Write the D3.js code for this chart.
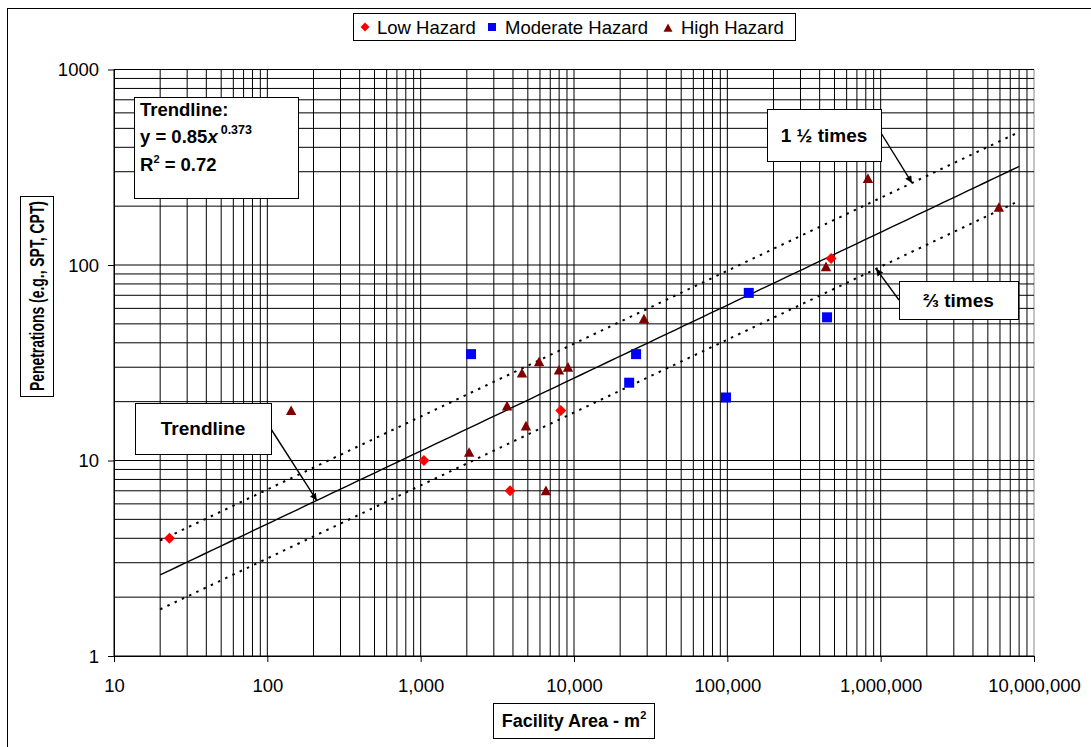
<!DOCTYPE html>
<html>
<head>
<meta charset="utf-8">
<script src="https://cdn.jsdelivr.net/npm/d3@7/dist/d3.min.js"></script>
<style>
  html, body { margin: 0; padding: 0; background: #fff; }
  svg text { font-family: Arial, "Liberation Sans", sans-serif; fill: #000; }
</style>
</head>
<body>
<svg id="chart" width="1091" height="747"></svg>
<script>
// Facility area (m²) vs. number of penetrations, by hazard class
const lowX  = [23, 1050, 3830, 8200, 475000];
const lowY  = [4, 10, 7, 18, 108];
const modX  = [2130, 22900, 25400, 98000, 138000, 447000];
const modY  = [35, 25, 35, 21, 72, 54];
const highX = [143, 2070, 3660, 4580, 4860, 5920, 6560, 7980, 9140, 28600, 440000, 826000, 5900000];
const highY = [18, 11, 19, 28, 15, 32, 7, 29, 30, 53, 98, 277, 197];

// Power-law trendline y = a·x^b, drawn with ×1.5 and ×2/3 bands
const trendA = 0.85, trendB = 0.373, trendR2 = 0.72;
const trendRange = [20, 8000000];
const bandFactors = [1.5, 2 / 3];

const xTicks = [10, 100, 1000, 10000, 100000, 1000000, 10000000];
const yTicks = [1, 10, 100, 1000];
const seriesNames = ["Low Hazard", "Moderate Hazard", "High Hazard"];
const seriesColors = ["#ff0000", "#0000ff", "#800000"];

const svg = d3.select("#chart");
const font = 'Arial, "Liberation Sans", sans-serif';

// outer chart frame
svg.append("rect").attr("x", 7.5).attr("y", 8.5).attr("width", 1100).attr("height", 760)
  .attr("fill", "#fff").attr("stroke", "#000").attr("stroke-width", 1);

const x = d3.scaleLog().domain([10, 1e7]).range([114, 1034]);
const y = d3.scaleLog().domain([1, 1000]).range([656, 69.5]);

// log grid (majors + minors)
const xGrid = [], yGrid = [];
for (let d = 10; d < 1e7; d *= 10) for (let k = 1; k < 10; k++) xGrid.push(d * k);
xGrid.push(1e7);
for (let d = 1; d < 1000; d *= 10) for (let k = 1; k < 10; k++) yGrid.push(d * k);
yGrid.push(1000);

const grid = svg.append("g");
grid.selectAll("line.v").data(xGrid).join("line").attr("class", "v")
  .attr("x1", d => x(d)).attr("x2", d => x(d))
  .attr("y1", y(1000)).attr("y2", y(1))
  .attr("stroke", d => d === 1e7 ? "#888" : "#000").attr("stroke-width", 1);
grid.selectAll("line.h").data(yGrid).join("line").attr("class", "h")
  .attr("x1", x(10)).attr("x2", x(1e7))
  .attr("y1", d => y(d)).attr("y2", d => y(d))
  .attr("stroke", "#000").attr("stroke-width", 1);

// axes
const xAxis = svg.append("g").attr("transform", `translate(0,${y(1)})`)
  .call(d3.axisBottom(x).tickValues(xTicks).tickFormat(d3.format(",")).tickSizeInner(6).tickSizeOuter(0));
xAxis.selectAll("text").attr("y", 36).attr("dy", 0).style("font-size", "18.5px").style("font-family", font);
xAxis.selectAll("line, path").attr("stroke", "#000");

const yAxis = svg.append("g").attr("transform", `translate(${x(10)},0)`)
  .call(d3.axisLeft(y).tickValues(yTicks).tickFormat(d3.format("d")).tickSizeInner(6).tickSizeOuter(0).tickPadding(9));
yAxis.selectAll("text").attr("dy", "0.35em").style("font-size", "18.5px").style("font-family", font);
yAxis.selectAll("line, path").attr("stroke", "#000");

// trend and band lines
const trend = v => trendA * Math.pow(v, trendB);
const xs = d3.range(0, 101).map(i => trendRange[0] * Math.pow(trendRange[1] / trendRange[0], i / 100));
const lineGen = f => d3.line().x(d => x(d)).y(d => y(f * trend(d)))(xs);

svg.append("path").attr("d", lineGen(1)).attr("fill", "none")
  .attr("stroke", "#000").attr("stroke-width", 1.4);
bandFactors.forEach(f => {
  svg.append("path").attr("d", lineGen(f)).attr("fill", "none")
    .attr("stroke", "#000").attr("stroke-width", 2).attr("stroke-dasharray", "2.5,5.5");
});

// markers
const diamond = r => `M0,${-r}L${r},0L0,${r}L${-r},0Z`;
const triangle = r => `M0,${-r}L${r},${r * 0.85}L${-r},${r * 0.85}Z`;

const marks = svg.append("g");
marks.selectAll("path.low").data(lowX.map((v, i) => [v, lowY[i]])).join("path").attr("class", "low")
  .attr("transform", d => `translate(${x(d[0])},${y(d[1])})`)
  .attr("d", diamond(5.5)).attr("fill", seriesColors[0]);
marks.selectAll("rect.mod").data(modX.map((v, i) => [v, modY[i]])).join("rect").attr("class", "mod")
  .attr("x", d => x(d[0]) - 5).attr("y", d => y(d[1]) - 5)
  .attr("width", 10).attr("height", 10).attr("fill", seriesColors[1]);
marks.selectAll("path.high").data(highX.map((v, i) => [v, highY[i]])).join("path").attr("class", "high")
  .attr("transform", d => `translate(${x(d[0])},${y(d[1])})`)
  .attr("d", triangle(5.2)).attr("fill", seriesColors[2]);

// legend
const lg = svg.append("g");
lg.append("rect").attr("x", 353.5).attr("y", 13.5).attr("width", 442).attr("height", 27)
  .attr("fill", "#fff").attr("stroke", "#000");
const legendItems = [
  { mx: 365, tx: 377, shape: "diamond" },
  { mx: 492, tx: 505, shape: "square" },
  { mx: 668, tx: 681, shape: "triangle" }
];
legendItems.forEach((it, i) => {
  if (it.shape === "diamond")
    lg.append("path").attr("transform", `translate(${it.mx},27)`).attr("d", diamond(4.5)).attr("fill", seriesColors[i]);
  else if (it.shape === "square")
    lg.append("rect").attr("x", it.mx - 4).attr("y", 23).attr("width", 8).attr("height", 8).attr("fill", seriesColors[i]);
  else
    lg.append("path").attr("transform", `translate(${it.mx},28)`).attr("d", triangle(4.5)).attr("fill", seriesColors[i]);
  lg.append("text").attr("x", it.tx).attr("y", 33.5).style("font-size", "18.5px").text(seriesNames[i]);
});

// equation box
const eq = svg.append("g");
eq.append("rect").attr("x", 134.5).attr("y", 97.5).attr("width", 164).attr("height", 101)
  .attr("fill", "#fff").attr("stroke", "#000");
eq.append("text").attr("x", 140).attr("y", 116).style("font-size", "18.5px").style("font-weight", "bold")
  .text("Trendline:");
const eqT = eq.append("text").attr("x", 140).attr("y", 143).style("font-size", "18.5px").style("font-weight", "bold");
eqT.append("tspan").text(`y = ${trendA}`);
eqT.append("tspan").style("font-style", "italic").text("x");
eqT.append("tspan").attr("dx", 3).attr("dy", -9).style("font-size", "12.5px").text(trendB.toFixed(3));
const r2T = eq.append("text").attr("x", 140).attr("y", 171).style("font-size", "18.5px").style("font-weight", "bold");
r2T.append("tspan").text("R");
r2T.append("tspan").attr("dy", -8).style("font-size", "11px").text("2");
r2T.append("tspan").attr("dy", 8).text(` = ${trendR2}`);

// callouts with arrows
svg.append("defs").append("marker").attr("id", "arrow").attr("viewBox", "0 0 10 10")
  .attr("refX", 10).attr("refY", 5).attr("markerWidth", 9).attr("markerHeight", 7)
  .attr("markerUnits", "userSpaceOnUse").attr("orient", "auto")
  .append("path").attr("d", "M0,0L10,5L0,10Z").attr("fill", "#000");

const callouts = [
  { text: "Trendline", box: [135, 403, 136, 51], from: [271, 429], at: 210, f: 1 },
  { text: "1 \u00BD times", box: [767, 109, 114, 52], from: [881, 133], at: 1600000, f: 1.5 },
  { text: "\u2154 times", box: [899, 281, 119, 38], from: [899, 300], at: 935000, f: 2 / 3 }
];
callouts.forEach(c => {
  svg.append("line").attr("x1", c.from[0]).attr("y1", c.from[1])
    .attr("x2", x(c.at)).attr("y2", y(c.f * trend(c.at)))
    .attr("stroke", "#000").attr("stroke-width", 1.4).attr("marker-end", "url(#arrow)");
  svg.append("rect").attr("x", c.box[0] + 0.5).attr("y", c.box[1] + 0.5)
    .attr("width", c.box[2]).attr("height", c.box[3])
    .attr("fill", "#fff").attr("stroke", "#000");
  svg.append("text").attr("x", c.box[0] + c.box[2] / 2).attr("y", c.box[1] + c.box[3] / 2)
    .attr("dy", "0.36em").attr("text-anchor", "middle")
    .style("font-size", "19px").style("font-weight", "bold").text(c.text);
});

// axis titles
const xt = svg.append("g");
xt.append("rect").attr("x", 493.5).attr("y", 703.5).attr("width", 161).attr("height", 35)
  .attr("fill", "#fff").attr("stroke", "#000");
const xtt = xt.append("text").attr("x", 574).attr("y", 727).attr("text-anchor", "middle")
  .style("font-size", "18px").style("font-weight", "bold");
xtt.append("tspan").text("Facility Area - m");
xtt.append("tspan").attr("dy", -8).style("font-size", "11px").text("2");

const yt = svg.append("g");
yt.append("rect").attr("x", 20.5).attr("y", 196.5).attr("width", 33).attr("height", 200)
  .attr("fill", "#fff").attr("stroke", "#000");
yt.append("text").attr("transform", "translate(44,296) rotate(-90)").attr("text-anchor", "middle")
  .attr("textLength", 190).attr("lengthAdjust", "spacingAndGlyphs")
  .style("font-size", "19.5px").style("font-weight", "bold").text("Penetrations (e.g., SPT, CPT)");
</script>
</body>
</html>
